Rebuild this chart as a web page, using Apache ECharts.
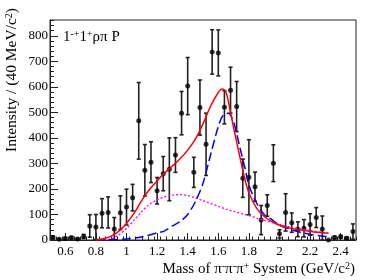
<!DOCTYPE html>
<html>
<head>
<meta charset="utf-8">
<script src="https://cdn.jsdelivr.net/npm/echarts@6/dist/echarts.min.js"></script>
<style>
html,body{margin:0;padding:0;background:#fff;}
#chart{width:374px;height:280px;}
</style>
</head>
<body>
<div id="chart"></div>
<script>
// Histogram bins (GeV/c^2) — bin centres, 40 MeV wide
const massBins = [0.52,0.56,0.60,0.64,0.68,0.72,0.76,0.80,0.84,0.88,0.92,0.96,1.00,1.04,1.08,1.12,1.16,1.20,1.24,1.28,
  1.32,1.36,1.40,1.44,1.48,1.52,1.56,1.60,1.64,1.68,1.72,1.76,1.80,1.84,1.88,1.92,1.96,2.00,2.04,2.08,
  2.12,2.16,2.20,2.24,2.28,2.32,2.36,2.40,2.44,2.48];
const intensity = [10,3,6,9,4,14,55,51,105,108,43,107,129,166,467,273,305,193,260,277,
  333,497,603,265,519,375,737,733,520,587,523,242,246,209,78,135,301,24,108,68,
  42,46,61,88,43,0,10,13,7,33];
const intensityErr = [5,3,4,5,3,8,44,49,57,61,45,66,70,52,150,101,80,52,67,123,
  68,85,112,59,108,122,87,90,65,90,98,75,147,57,57,42,72,16,73,38,
  29,34,42,39,51,0,5,5,4,30];

// Fit curves
const totalX = [0.80,0.85,0.90,0.95,1.00,1.05,1.10,1.15,1.20,1.25,1.30,1.35,1.40,1.45,1.50,1.55,1.60,1.625,1.65,1.675,1.70,1.725,1.75,1.775,1.80,1.85,1.90,1.95,2.00,2.05,2.10,2.15,2.20,2.25,2.30,2.32];
const totalY = [0,5,15,35,65,105,155,198,232,263,290,318,352,395,455,525,578,592,580,515,440,370,300,235,185,125,92,72,58,49,43,38,34,30,27,26];
const bwX = [0.80,0.90,1.00,1.10,1.20,1.25,1.30,1.35,1.40,1.45,1.50,1.55,1.60,1.63,1.665,1.70,1.74,1.775,1.80,1.85,1.90,1.95,2.00,2.05,2.10,2.20,2.30,2.32];
const bwY = [0,1,4,12,28,36,55,72,100,150,222,335,445,488,497,462,365,280,215,145,100,80,58,47,36,22,14,13];
const bkgX = [0.80,0.85,0.90,0.95,1.00,1.05,1.10,1.15,1.20,1.25,1.30,1.35,1.40,1.45,1.50,1.55,1.60,1.65,1.70,1.75,1.80,1.85,1.90,2.00,2.10,2.20,2.30,2.32];
const bkgY = [0,1,5,20,45,78,112,140,157,170,176,178,174,165,154,143,132,121,112,104,96,86,77,61,47,37,28,27];

// Axis ticks
const xMajor = [0.6,0.8,1.0,1.2,1.4,1.6,1.8,2.0,2.2,2.4];
const xMinor = [];
for (let i = 0; i <= 50; i++) { xMinor.push(+(0.5 + 0.04 * i).toFixed(2)); }
const yMajor = [0,100,200,300,400,500,600,700,800];
const yMinor = [];
for (let v = 0; v <= 860; v += 20) { yMinor.push(v); }

const pairs = (xs, ys) => xs.map((x, i) => [x, ys[i]]);
const FONT = '"Liberation Serif","DejaVu Serif",serif';

const chart = echarts.init(document.getElementById('chart'), null, {renderer: 'canvas'});
const option = {
  animation: false,
  backgroundColor: '#fff',
  grid: {left: 50, right: 18, top: 20, bottom: 40, show: true, borderColor: '#222', borderWidth: 1,
    backgroundColor: 'transparent', containLabel: false, outerBoundsMode: 'none'},
  xAxis: [
    {
      type: 'value', min: 0.5, max: 2.5, position: 'bottom',
      axisLine: {show: true, onZero: false, lineStyle: {color: '#222', width: 1}},
      axisTick: {show: true, inside: true, length: 7, customValues: xMajor, lineStyle: {color: '#222'}},
      axisLabel: {show: true, customValues: xMajor, margin: 5, color: '#000', fontFamily: FONT, fontSize: 13,
        formatter: v => String(+v.toFixed(1))},
      splitLine: {show: false},
      name: '{t|Mass of π}{s|-}{t|π}{s|-}{t|π}{s|+}{t| System (GeV/c}{s|2}{t|)}',
      nameLocation: 'end', nameGap: -1,
      nameTextStyle: {align: 'right', verticalAlign: 'top', padding: [21, 0, 0, 0],
        rich: {t: {fontFamily: FONT, fontSize: 15, color: '#000'}, s: {fontFamily: FONT, fontSize: 10, color: '#000', verticalAlign: 'top', padding: [0,0,6,0]}}}
    },
    {
      type: 'value', min: 0.5, max: 2.5, position: 'bottom',
      axisLine: {show: false},
      axisTick: {show: true, inside: true, length: 3.5, customValues: xMinor, lineStyle: {color: '#222'}},
      axisLabel: {show: false},
      splitLine: {show: false}
    }
  ],
  yAxis: [
    {
      type: 'value', min: 0, max: 862, position: 'left',
      axisLine: {show: true, onZero: false, lineStyle: {color: '#222', width: 1}},
      axisTick: {show: true, inside: true, length: 8, customValues: yMajor, lineStyle: {color: '#222'}},
      axisLabel: {show: true, customValues: yMajor, margin: 2, color: '#000', fontFamily: FONT, fontSize: 13},
      splitLine: {show: false}
    },
    {
      type: 'value', min: 0, max: 862, position: 'left',
      axisLine: {show: false},
      axisTick: {show: true, inside: true, length: 4, customValues: yMinor, lineStyle: {color: '#222'}},
      axisLabel: {show: false},
      splitLine: {show: false}
    }
  ],
  graphic: [
    {type: 'text', left: 63, top: 29, style: {
      text: '{t|1}{s|-+}{t|1}{s|+}{t|ρπ P}',
      rich: {t: {fontFamily: FONT, fontSize: 15, fill: '#000'}, s: {fontFamily: FONT, fontSize: 10, fill: '#000', verticalAlign: 'top', padding: [0,0,6,0]}}
    }},
    {type: 'text', x: 12, y: 80, rotation: Math.PI / 2, style: {
      text: '{t|Intensity / (40 MeV/c}{s|2}{t|)}', align: 'center', verticalAlign: 'middle',
      rich: {t: {fontFamily: FONT, fontSize: 15.5, fill: '#000'}, s: {fontFamily: FONT, fontSize: 10, fill: '#000', verticalAlign: 'top', padding: [0,0,6,0]}}
    }}
  ],
  series: [
    {
      type: 'custom', xAxisIndex: 0, yAxisIndex: 0, z: 2,
      data: massBins.map((m, i) => [m, intensity[i], intensityErr[i]]),
      renderItem: function (params, api) {
        const x = api.value(0), y = api.value(1), e = api.value(2);
        if (e <= 0) return null;
        const lo = api.coord([x, Math.max(0, y - e)]);
        const hi = api.coord([x, y + e]);
        const cap = 2;
        const st = {stroke: '#222', lineWidth: 1.6};
        return {type: 'group', children: [
          {type: 'line', shape: {x1: lo[0], y1: lo[1], x2: hi[0], y2: hi[1]}, style: st},
          {type: 'line', shape: {x1: hi[0] - cap, y1: hi[1], x2: hi[0] + cap, y2: hi[1]}, style: st},
          {type: 'line', shape: {x1: lo[0] - cap, y1: lo[1], x2: lo[0] + cap, y2: lo[1]}, style: st}
        ]};
      }
    },
    {
      type: 'scatter', xAxisIndex: 0, yAxisIndex: 0, z: 3,
      symbol: 'circle', symbolSize: 5, itemStyle: {color: '#000'},
      data: pairs(massBins, intensity)
    },
    {
      type: 'line', xAxisIndex: 0, yAxisIndex: 0, z: 4, smooth: 0.3, showSymbol: false,
      lineStyle: {color: '#ff00ff', width: 1.4, type: [2, 2]},
      data: pairs(bkgX, bkgY)
    },
    {
      type: 'line', xAxisIndex: 0, yAxisIndex: 0, z: 5, smooth: 0.3, showSymbol: false,
      lineStyle: {color: '#0000ff', width: 1.5, type: [9, 4]},
      data: pairs(bwX, bwY)
    },
    {
      type: 'line', xAxisIndex: 0, yAxisIndex: 0, z: 6, smooth: 0.3, showSymbol: false,
      lineStyle: {color: '#ff0000', width: 1.5},
      data: pairs(totalX, totalY)
    }
  ]
};
chart.setOption(option);
</script>
</body>
</html>
